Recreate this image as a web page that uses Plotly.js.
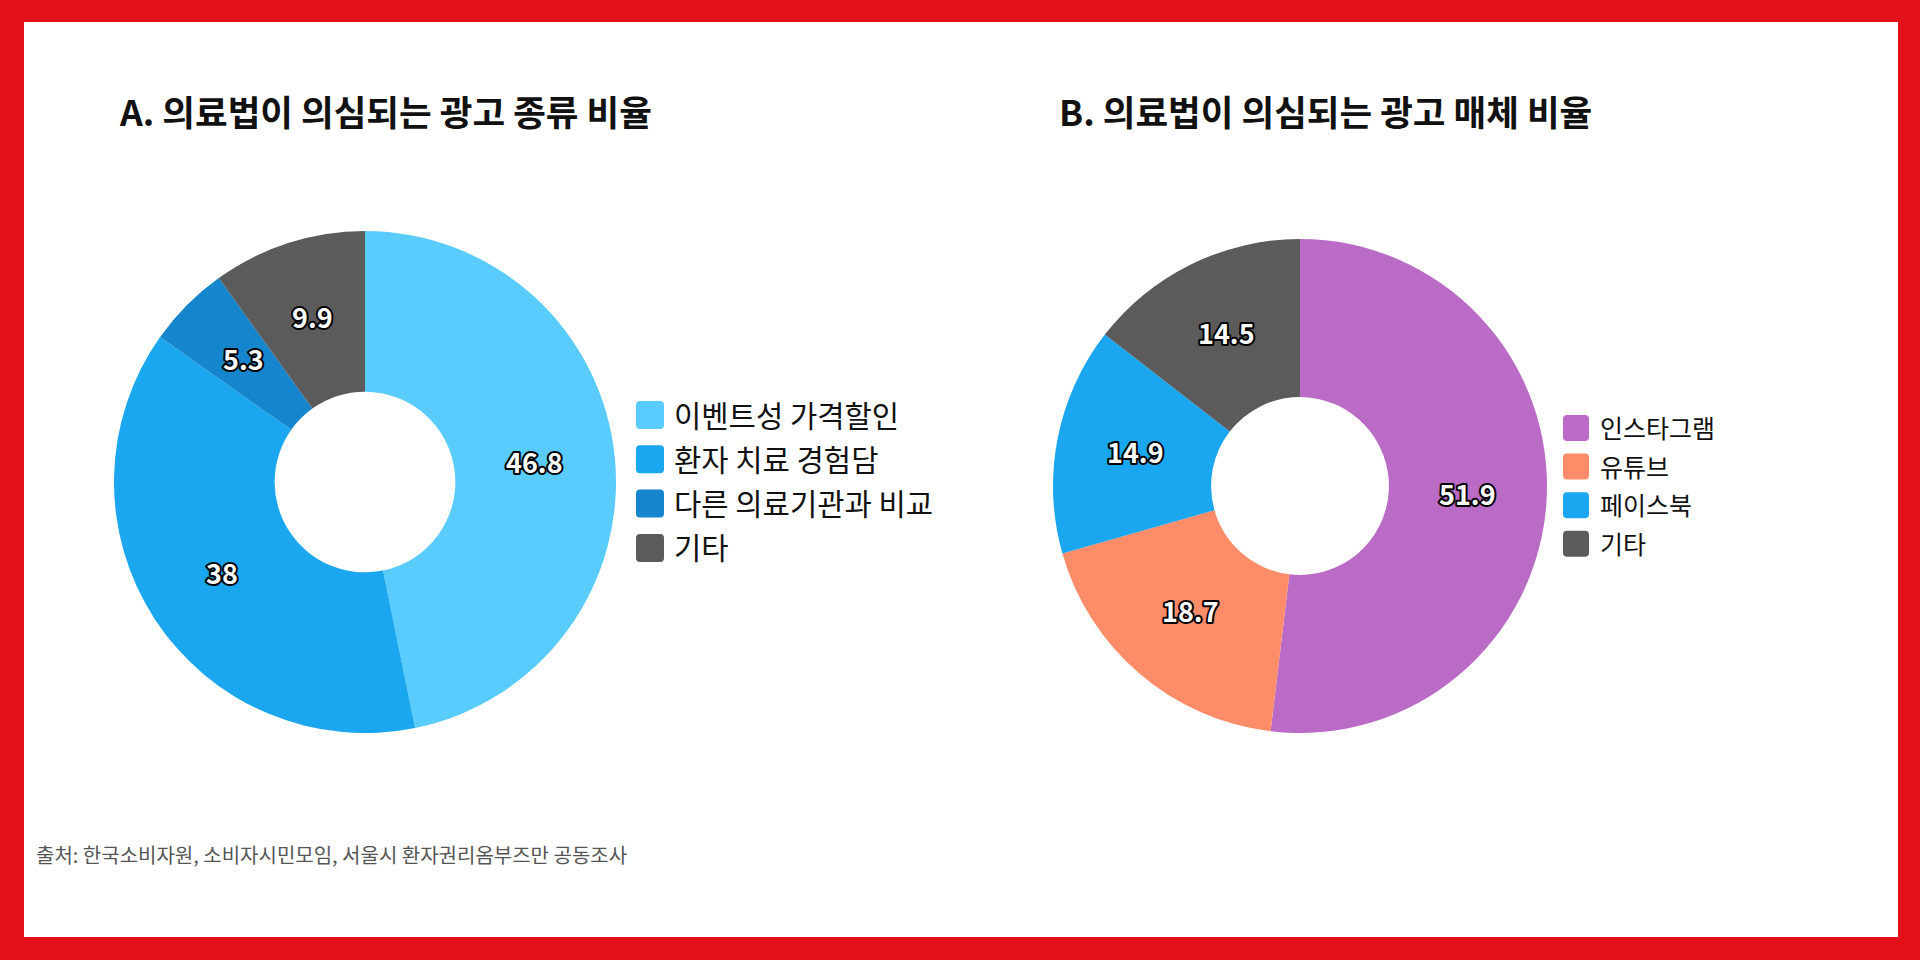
<!DOCTYPE html>
<html>
<head>
<meta charset="utf-8">
<script src="https://cdn.plot.ly/plotly-3.0.1.min.js"></script>
<style>
  html, body { margin: 0; padding: 0; background: #ffffff; }
  #chart { width: 1920px; height: 960px; }
  g.annotation text[style*="255, 255, 255"] {
    stroke: #000000;
    stroke-width: 4px;
    paint-order: stroke;
    stroke-linejoin: round;
  }
</style>
</head>
<body>
<div id="chart"></div>
<script>
// ---- Data ----
const titleA = "A. 의료법이 의심되는 광고 종류 비율";
const labelsA = ["이벤트성 가격할인", "환자 치료 경험담", "다른 의료기관과 비교", "기타"];
const valuesA = [46.8, 38, 5.3, 9.9];
const colorsA = ["#59CBFD", "#1AA7EF", "#1586CD", "#5B5B5B"];

const titleB = "B. 의료법이 의심되는 광고 매체 비율";
const labelsB = ["인스타그램", "유튜브", "페이스북", "기타"];
const valuesB = [51.9, 18.7, 14.9, 14.5];
const colorsB = ["#B96BC6", "#FF8C69", "#1AA7EF", "#5B5B5B"];

const sourceText = "출처: 한국소비자원, 소비자시민모임, 서울시 환자권리옴부즈만 공동조사";

// ---- Layout helpers (pixel -> paper) ----
const W = 1920, H = 960;
const FONT = '"Noto Sans CJK KR", "Noto Sans", sans-serif';
const HOLE = 0.36;
const px = x => x / W;
const py = y => 1 - y / H;

const pieA = { cx: 365, cy: 482, r: 251 };
const pieB = { cx: 1300, cy: 486, r: 247 };

function domainFor(p) {
  return { x: [px(p.cx - p.r), px(p.cx + p.r)], y: [py(p.cy + p.r), py(p.cy - p.r)] };
}

function pieTrace(labels, values, colors, p) {
  return {
    type: "pie",
    labels: labels,
    values: values,
    sort: false,
    direction: "clockwise",
    rotation: 0,
    hole: HOLE,
    domain: domainFor(p),
    marker: { colors: colors, line: { width: 0 } },
    textinfo: "none",
    showlegend: false,
    hoverinfo: "label+value"
  };
}

function roundRect(x0, y0, size, rad) {
  const x1 = x0 + size, y1 = y0 + size;
  const P = (x, y) => px(x) + "," + py(y);
  return "M" + P(x0 + rad, y0) +
    " L" + P(x1 - rad, y0) +
    " Q" + P(x1, y0) + " " + P(x1, y0 + rad) +
    " L" + P(x1, y1 - rad) +
    " Q" + P(x1, y1) + " " + P(x1 - rad, y1) +
    " L" + P(x0 + rad, y1) +
    " Q" + P(x0, y1) + " " + P(x0, y1 - rad) +
    " L" + P(x0, y0 + rad) +
    " Q" + P(x0, y0) + " " + P(x0 + rad, y0) + " Z";
}

const shapes = [];
const annotations = [];

// red frame
const frameColor = "#E3101A";
shapes.push({ type: "rect", xref: "paper", yref: "paper", layer: "below",
  x0: 0, x1: 1, y0: 0, y1: 1, fillcolor: frameColor, line: { width: 0 } });
shapes.push({ type: "rect", xref: "paper", yref: "paper", layer: "below",
  x0: px(24), x1: px(1898), y0: py(937), y1: py(22), fillcolor: "#ffffff", line: { width: 0 } });

// titles
annotations.push({ xref: "paper", yref: "paper", x: px(117), y: py(111), xanchor: "left", yanchor: "middle",
  text: titleA, showarrow: false, font: { family: FONT, size: 35.5, color: "#111111", weight: 700 } });
annotations.push({ xref: "paper", yref: "paper", x: px(1057), y: py(111), xanchor: "left", yanchor: "middle",
  text: titleB, showarrow: false, font: { family: FONT, size: 35.5, color: "#111111", weight: 700 } });

// source
annotations.push({ xref: "paper", yref: "paper", x: px(34), y: py(854), xanchor: "left", yanchor: "middle",
  text: sourceText, showarrow: false, font: { family: FONT, size: 20, color: "#555555" } });

// value labels at the middle of each ring segment (angles derived from the values)
function addValueLabels(values, p) {
  const total = values.reduce((a, b) => a + b, 0);
  const rMid = p.r * (1 + HOLE) / 2;
  let cum = 0;
  values.forEach(v => {
    const theta = 2 * Math.PI * (cum + v / 2) / total;
    cum += v;
    const x = p.cx + rMid * Math.sin(theta);
    const y = p.cy - rMid * Math.cos(theta);
    annotations.push({ xref: "paper", yref: "paper", x: px(x), y: py(y), xanchor: "center", yanchor: "middle",
      yshift: 3, text: String(v), showarrow: false,
      font: { family: FONT, size: 27, color: "#ffffff", weight: 700 } });
  });
}
addValueLabels(valuesA, pieA);
addValueLabels(valuesB, pieB);

// custom legends
function addLegend(labels, colors, sx, sy0, step, size, tx, fs) {
  labels.forEach((lab, i) => {
    const cy = sy0 + i * step;
    shapes.push({ type: "path", xref: "paper", yref: "paper", layer: "above",
      path: roundRect(sx, cy - size / 2, size, 4), fillcolor: colors[i], line: { width: 0 } });
    annotations.push({ xref: "paper", yref: "paper", x: px(tx), y: py(cy), xanchor: "left", yanchor: "middle",
      yshift: 1, text: lab, showarrow: false, font: { family: FONT, size: fs, color: "#111111" } });
  });
}
addLegend(labelsA, colorsA, 636, 415, 44.3, 28, 672, 29.7);
addLegend(labelsB, colorsB, 1563, 428, 38.6, 26, 1598, 25);

const data = [
  pieTrace(labelsA, valuesA, colorsA, pieA),
  pieTrace(labelsB, valuesB, colorsB, pieB)
];

const layout = {
  width: W, height: H,
  margin: { l: 0, r: 0, t: 0, b: 0 },
  paper_bgcolor: "#ffffff",
  plot_bgcolor: "#ffffff",
  showlegend: false,
  font: { family: FONT },
  shapes: shapes,
  annotations: annotations
};

Plotly.newPlot("chart", data, layout, { displayModeBar: false, staticPlot: true });
</script>
</body>
</html>
